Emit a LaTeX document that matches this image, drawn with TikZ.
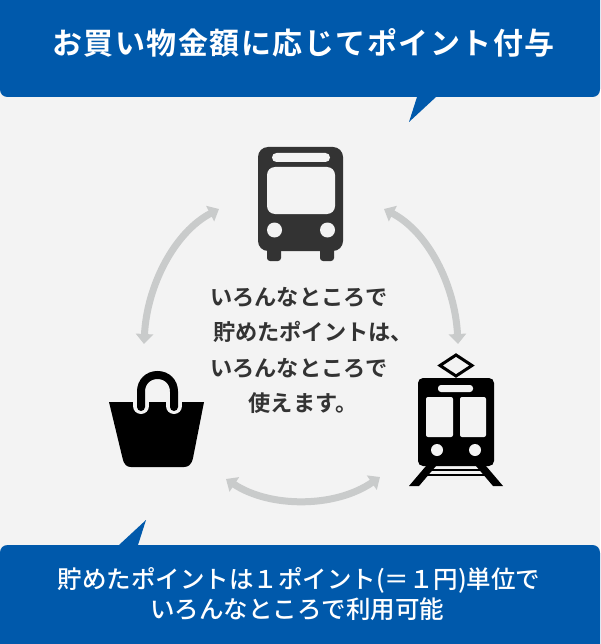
\documentclass[tikz,border=0pt]{standalone}
\usepackage{fontspec}
\usetikzlibrary{arrows.meta}
\newfontfamily\jpb[LetterSpace=5]{Noto Sans CJK JP Bold}
\newfontfamily\jpc{Noto Sans CJK JP Bold}
\newfontfamily\jpm{Noto Sans CJK JP Medium}
\definecolor{bluebanner}{HTML}{0059AB}
\definecolor{bgpanel}{HTML}{F3F3F3}
\definecolor{graybus}{HTML}{333333}
\definecolor{grayarrow}{HTML}{C9CBCB}
\tikzset{
 x=1pt,y=-1pt,
 cyclearrow/.style={draw=grayarrow,line width=7pt,{Triangle[width=17pt,length=10pt]}-{Triangle[width=17pt,length=10pt]}},
 holes/.style={fill=bgpanel,draw=none},
 titletext/.style={text=white,font=\jpb\fontsize{30}{32}\selectfont,anchor=center,inner sep=0},
 noteline/.style={text=white,font=\jpm\fontsize{24.5}{32}\selectfont,anchor=center,inner sep=0,align=center},
 centertext/.style={text=graybus,font=\jpc\fontsize{22.2}{37}\selectfont,inner sep=0,anchor=center},
}
\begin{document}
\begin{tikzpicture}
\useasboundingbox (0,0) rectangle (600,644);
\fill[bgpanel] (0,0) rectangle (600,644);
% top banner
\fill[bluebanner] (0,0) -- (600,0) -- (600,89) .. controls (600,94) and (597,97) .. (592,97) -- (436,97) -- (409,122) -- (417,97) -- (8,97) .. controls (3,97) and (0,94) .. (0,89) -- cycle;
\node[titletext] (title) at (303.5,43) {お買い物金額に応じてポイント付与};
% bottom banner
\fill[bluebanner] (0,644) -- (0,553) .. controls (0,548) and (3,545) .. (8,545) -- (119,545) -- (146,520) -- (138,545) -- (592,545) .. controls (597,545) and (600,548) .. (600,553) -- (600,644) -- cycle;
\node[noteline] (note1) at (299,580) {貯めたポイントは１ポイント(＝１円)単位で};
\node[noteline] (note2) at (297,609) {いろんなところで利用可能};
% bus
\begin{scope}
\fill[graybus,rounded corners=3pt] (267,245) rectangle (281,261);
\fill[graybus,rounded corners=3pt] (320,245) rectangle (334,261);
\fill[graybus,rounded corners=10pt] (258,147) rectangle (343,251);
\fill[holes,rounded corners=4.5pt] (272,153) rectangle (330,162);
\fill[holes,rounded corners=8pt] (267,167) rectangle (335,214);
\fill[holes] (274.5,230) circle[radius=7.5];
\fill[holes] (327.5,230) circle[radius=7.5];
\end{scope}
\node[minimum size=86pt,inner sep=0] (bus) at (300.5,204) {};
% tram
\begin{scope}
\draw[black,line width=3pt,line join=miter] (456,355) -- (472,365.5) -- (456,376) -- (440,365.5) -- cycle;
\fill[black,rounded corners=5pt] (418,378) rectangle (494,466);
\fill[holes,rounded corners=3pt] (438,385) rectangle (473,392);
\fill[holes,rounded corners=2pt] (426,397) rectangle (453,437);
\fill[holes,rounded corners=2pt] (460,397) rectangle (486,437);
\fill[holes] (437,450) circle[radius=6];
\fill[holes] (475,450) circle[radius=6];
\fill[black] (409,486) -- (426,466) -- (436,466) -- (419,486) -- cycle;
\fill[black] (503,486) -- (486,466) -- (476,466) -- (493,486) -- cycle;
\fill[black] (432,468.5) rectangle (480,470.5);
\fill[black] (424,473.5) rectangle (488,476);
\end{scope}
\node[minimum size=90pt,inner sep=0] (tram) at (456,420) {};
% bag
\begin{scope}
\fill[black] (109,402) -- (204,402) -- (193,458) .. controls (191.5,465) and (188,467) .. (184,467) -- (131,467) .. controls (127,467) and (124,465) .. (122.5,458) -- cycle;
\draw[bgpanel,line width=16pt,line cap=round] (141,402) -- (141,406);
\draw[bgpanel,line width=16pt,line cap=round] (174,402) -- (174,406);
\fill[bgpanel] (130,390) rectangle (185,401.9);
\draw[black,line width=8pt,line cap=round] (141,407) -- (141,391.5) .. controls (141,382) and (148,375) .. (157.5,375) .. controls (167,375) and (174,382) .. (174,391.5) -- (174,407);
\end{scope}
\node[minimum size=90pt,inner sep=0] (bag) at (156.5,420) {};
% centre text
\node[centertext] (c1) at (299,297) {いろんなところで};
\node[centertext] (c2) at (313,332) {貯めたポイントは、};
\node[centertext] (c3) at (299,368) {いろんなところで};
\node[centertext] (c4) at (303,403) {使えます。};
% cycle arrows
\coordinate (busL) at (219,209);
\coordinate (bagT) at (144,344);
\coordinate (busR) at (384,209);
\coordinate (tramT) at (458,344);
\coordinate (bagR) at (226,479);
\coordinate (tramL) at (380,477);
\draw[cyclearrow] (busL) .. controls (175,232) and (147,285) .. (bagT);
\draw[cyclearrow] (busR) .. controls (428,232) and (455,285) .. (tramT);
\draw[cyclearrow] (bagR) .. controls (270,508) and (335,508) .. (tramL);
\end{tikzpicture}
\end{document}
